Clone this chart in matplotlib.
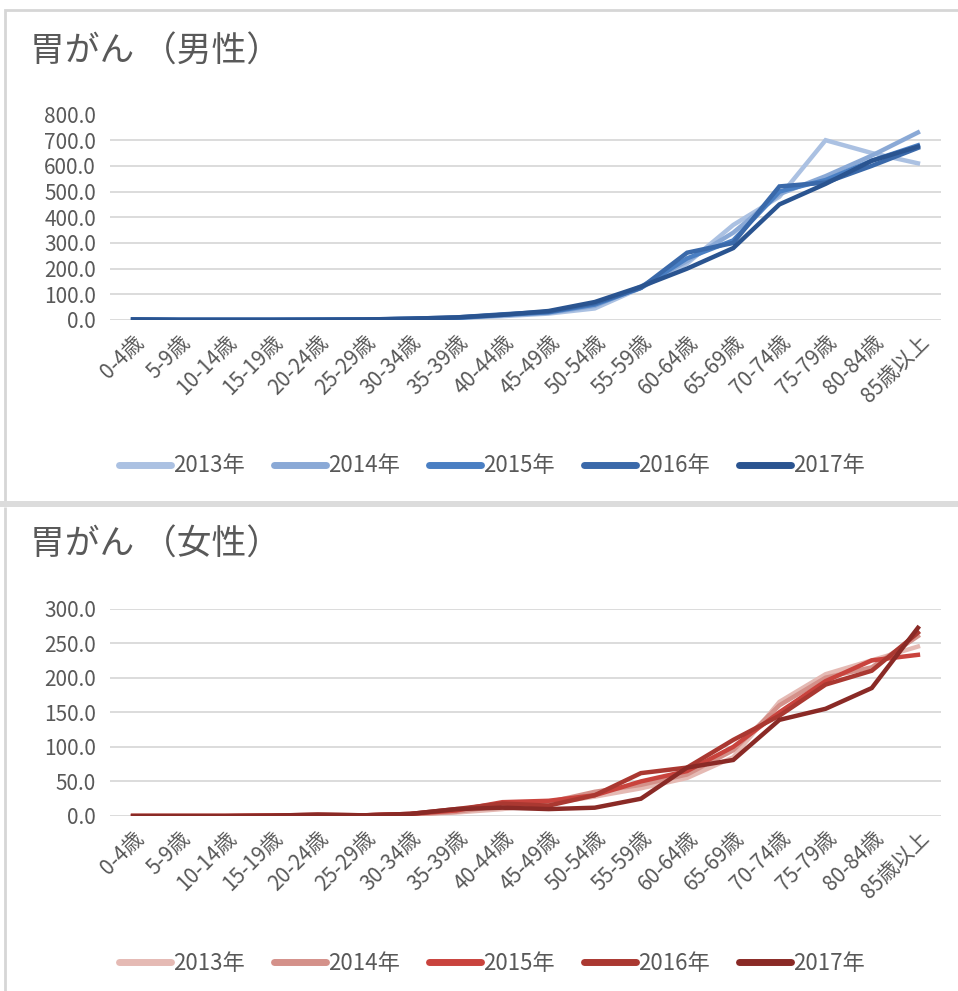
import numpy as np
import matplotlib
matplotlib.use('Agg')
import matplotlib.pyplot as plt
from matplotlib.patches import Rectangle

plt.rcParams['font.family'] = ['Noto Sans CJK JP', 'DejaVu Sans']

# 年齢階級
ages = ['0-4歳', '5-9歳', '10-14歳', '15-19歳', '20-24歳', '25-29歳', '30-34歳',
        '35-39歳', '40-44歳', '45-49歳', '50-54歳', '55-59歳', '60-64歳',
        '65-69歳', '70-74歳', '75-79歳', '80-84歳', '85歳以上']
years = ['2013年', '2014年', '2015年', '2016年', '2017年']

# 男性
m2013 = [2, 0.5, 0.5, 0.5, 1, 2, 4, 8, 15, 25, 45, 125, 220, 370, 480, 700, 650, 610]
m2014 = [2, 0.5, 0.5, 0.5, 1, 2, 4, 8, 18, 28, 55, 130, 230, 340, 490, 560, 640, 730]
m2015 = [2, 0.5, 0.5, 0.5, 1, 2, 4, 8, 20, 30, 60, 125, 240, 310, 500, 545, 620, 680]
m2016 = [2, 0.5, 0.5, 0.5, 1, 2, 5, 10, 22, 32, 65, 125, 262, 300, 520, 535, 600, 670]
m2017 = [2, 0.5, 0.5, 0.5, 1, 2, 5, 10, 20, 35, 70, 130, 200, 280, 450, 530, 620, 675]

# 女性
f2013 = [0, 0, 0, 0.5, 1, 1, 2, 5, 10, 18, 28, 40, 55, 85, 165, 205, 225, 245]
f2014 = [0, 0, 0, 0.5, 1, 1, 2, 6, 15, 20, 35, 45, 60, 95, 160, 200, 215, 260]
f2015 = [0, 0, 0, 0.5, 1, 1, 3, 8, 20, 22, 30, 50, 65, 100, 150, 195, 225, 233]
f2016 = [0, 0, 0, 0.5, 2, 1, 3, 10, 18, 15, 30, 62, 70, 110, 145, 190, 210, 265]
f2017 = [0, 0, 0, 0.5, 2, 1, 3, 10, 12, 10, 12, 25, 70, 81, 139, 155, 185, 272]

male = [m2013, m2014, m2015, m2016, m2017]
female = [f2013, f2014, f2015, f2016, f2017]
blues = ['#abc1e2', '#8aa9d6', '#4a7fc3', '#3a69aa', '#2a5490']
reds = ['#e5bab4', '#d4918a', '#c9433d', '#aa3831', '#8a2a26']

W, H = 958, 991
fig = plt.figure(figsize=(W / 100, H / 100), dpi=100)
txt = '#595959'
grid = '#d9d9d9'

# パネル枠
fig.patches.append(Rectangle((5 / W, 1 - 502 / H), 1.0, 492 / H, transform=fig.transFigure,
                             fill=False, edgecolor='#d6d6d6', linewidth=2))
fig.patches.append(Rectangle((0, 1 - 507 / H), 1.0, 6 / H, transform=fig.transFigure,
                             facecolor='#dcdcdc', edgecolor='none'))
fig.patches.append(Rectangle((5 / W, 0), 0.0, 1 - 507 / H, transform=fig.transFigure,
                             fill=False, edgecolor='#d6d6d6', linewidth=2))


def panel(rect, data, colors, ymax, step, title, ty, ly):
    ax = fig.add_axes(rect)
    x = np.arange(len(ages))
    for vals, c, lab in zip(data, colors, years):
        ax.plot(x, vals, color=c, lw=3.2, label=lab, solid_joinstyle='miter')
    ax.set_xlim(-0.5, len(ages) - 0.5)
    ax.set_ylim(0, ymax)
    ax.set_yticks(np.arange(0, ymax + 1, step))
    ax.set_yticklabels([f'{v:.1f}' for v in np.arange(0, ymax + 1, step)])
    ax.set_xticks(x)
    ax.set_xticklabels(ages, rotation=45, ha='right', rotation_mode='anchor')
    ax.yaxis.grid(True, color=grid, lw=1.3)
    ax.set_axisbelow(True)
    for s in ax.spines.values():
        s.set_visible(False)
    ax.tick_params(axis='both', length=0, colors=txt)
    ax.tick_params(axis='y', labelsize=15, pad=10)
    ax.tick_params(axis='x', labelsize=15, pad=8)
    fig.text(30 / W, 1 - ty / H, title, fontsize=25, color=txt, va='center')
    fig.legend(*ax.get_legend_handles_labels(), loc='center', ncol=5,
               bbox_to_anchor=(492 / W, 1 - ly / H), frameon=False, fontsize=16,
               labelcolor=txt, handlelength=2.35, handletextpad=0.1,
               columnspacing=1.3)
    for line in fig.legends[-1].get_lines():
        line.set_linewidth(5)
        line.set_solid_capstyle('round')
    return ax


panel([110 / W, 1 - 320 / H, 831 / W, 205.5 / H], male, blues, 800, 100,
      '胃がん （男性）', 52, 466)
panel([110 / W, 1 - 816 / H, 831 / W, 207.5 / H], female, reds, 300, 50,
      '胃がん （女性）', 545, 963)

fig.savefig('out.png', dpi=100)
